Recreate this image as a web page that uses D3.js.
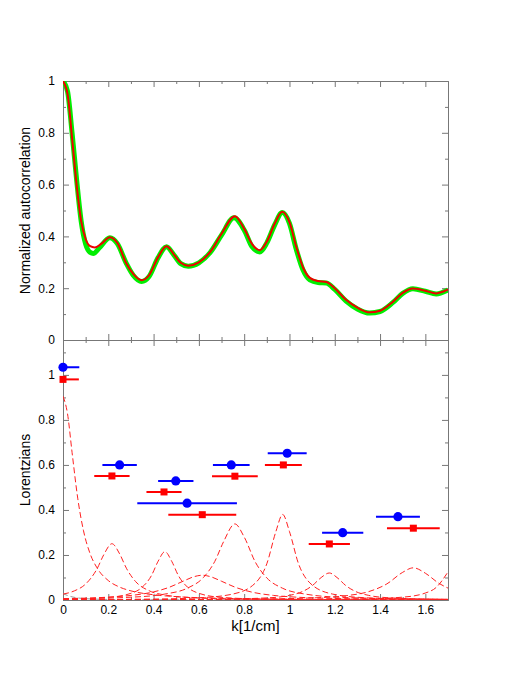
<!DOCTYPE html>
<html>
<head>
<meta charset="utf-8">
<script src="https://cdn.jsdelivr.net/npm/d3@7"></script>
<style>
  body { margin: 0; background: #fff; }
  text { font-family: "Liberation Sans", Arial, sans-serif; }
</style>
</head>
<body>
<div id="visArea"></div>
<script>

// Top panel: measured autocorrelation (green) and Lorentzian fit (red)
var dataK = [0, 0.02, 0.04, 0.06, 0.08, 0.10, 0.12, 0.134, 0.16, 0.207, 0.24, 0.28, 0.31, 0.347, 0.38, 0.42, 0.457, 0.49, 0.52, 0.553, 0.60, 0.65, 0.70, 0.755, 0.80, 0.835, 0.869, 0.90, 0.935, 0.968, 1.00, 1.03, 1.06, 1.09, 1.126, 1.163, 1.20, 1.25, 1.30, 1.354, 1.40, 1.457, 1.50, 1.545, 1.60, 1.648, 1.70];
var dataV = [1.0, 0.96, 0.80, 0.62, 0.46, 0.37, 0.338, 0.334, 0.355, 0.395, 0.372, 0.295, 0.25, 0.226, 0.245, 0.318, 0.36, 0.328, 0.295, 0.285, 0.298, 0.338, 0.405, 0.472, 0.425, 0.36, 0.34, 0.375, 0.445, 0.492, 0.45, 0.35, 0.27, 0.232, 0.222, 0.22, 0.195, 0.15, 0.12, 0.104, 0.11, 0.145, 0.18, 0.198, 0.188, 0.178, 0.193];

var fitK = [0, 0.02, 0.04, 0.06, 0.08, 0.10, 0.12, 0.14, 0.17, 0.207, 0.24, 0.28, 0.31, 0.347, 0.38, 0.42, 0.457, 0.49, 0.52, 0.553, 0.60, 0.65, 0.70, 0.759, 0.80, 0.835, 0.869, 0.90, 0.935, 0.968, 1.00, 1.03, 1.06, 1.09, 1.126, 1.163, 1.20, 1.25, 1.30, 1.354, 1.40, 1.457, 1.50, 1.545, 1.60, 1.648, 1.70];
var fitV = [1.0, 0.95, 0.78, 0.60, 0.46, 0.39, 0.362, 0.357, 0.372, 0.397, 0.375, 0.295, 0.255, 0.231, 0.25, 0.32, 0.362, 0.33, 0.298, 0.287, 0.30, 0.34, 0.41, 0.478, 0.43, 0.37, 0.347, 0.38, 0.45, 0.495, 0.455, 0.36, 0.28, 0.24, 0.228, 0.224, 0.20, 0.155, 0.125, 0.107, 0.113, 0.148, 0.182, 0.199, 0.19, 0.18, 0.195];

// Bottom panel: single Lorentzians, read as [k, value] pairs
var lor1 = [[0,0.905],[0.02,0.827],[0.04,0.656],[0.065,0.4525],[0.09,0.31],[0.12,0.205],[0.15,0.143],[0.2,0.0864],[0.25,0.0573],[0.3,0.0406],[0.4,0.0233],[0.5,0.015],[0.7,0.0077],[1.0,0.0038],[1.3,0.0023],[1.7,0.0013]];
var lor2 = [[0,0.026],[0.05,0.0405],[0.1,0.071],[0.15,0.138],[0.18,0.201],[0.216,0.25],[0.25,0.205],[0.28,0.141],[0.32,0.0825],[0.38,0.0413],[0.45,0.0221],[0.6,0.0087],[0.8,0.0039],[1.1,0.0017],[1.7,0.0006]];
var lor3 = [[0,0.0038],[0.2,0.0117],[0.3,0.0297],[0.35,0.0569],[0.39,0.1075],[0.42,0.172],[0.45,0.215],[0.48,0.172],[0.51,0.1075],[0.55,0.0569],[0.6,0.0297],[0.7,0.0117],[0.9,0.0038],[1.2,0.0014],[1.7,0.0005]];
var lor4 = [[0,0.0062],[0.2,0.0127],[0.3,0.0203],[0.4,0.036],[0.47,0.0569],[0.53,0.0833],[0.58,0.104],[0.615,0.11],[0.65,0.104],[0.7,0.0833],[0.76,0.0569],[0.83,0.036],[0.93,0.0203],[1.03,0.0127],[1.2,0.0068],[1.45,0.0034],[1.7,0.0021]];
var lor5 = [[0,0.0047],[0.3,0.0125],[0.45,0.0264],[0.55,0.0529],[0.62,0.0999],[0.67,0.171],[0.71,0.261],[0.759,0.338],[0.80,0.28],[0.85,0.167],[0.9,0.098],[0.97,0.052],[1.07,0.0262],[1.25,0.011],[1.7,0.0031]];
var lor6 = [[0,0.0015],[0.4,0.0042],[0.6,0.0097],[0.75,0.0264],[0.85,0.076],[0.9,0.161],[0.94,0.304],[0.97,0.38],[1.0,0.304],[1.04,0.161],[1.09,0.076],[1.19,0.0264],[1.34,0.0097],[1.54,0.0042],[1.7,0.0026]];
var lor7 = [[0,0.0006],[0.6,0.0023],[0.9,0.0093],[1.0,0.0205],[1.06,0.0387],[1.1,0.0631],[1.14,0.0998],[1.176,0.12],[1.21,0.0998],[1.25,0.0631],[1.29,0.0387],[1.35,0.0205],[1.45,0.0093],[1.7,0.0027]];
var lor8 = [[0,0.0008],[0.8,0.0034],[1.1,0.0092],[1.25,0.0192],[1.35,0.0373],[1.43,0.0715],[1.5,0.123],[1.547,0.143],[1.6,0.119],[1.66,0.074],[1.7,0.0528]];
var lor9 = [[0,0.0003],[0.5,0.0006],[1.0,0.0016],[1.3,0.0042],[1.5,0.0126],[1.6,0.031],[1.647,0.055],[1.7,0.125]];
var lorGray = [[0,0.028],[0.02,0.02],[0.04,0.014],[0.06,0.01],[0.1,0.006],[0.2,0.0025],[0.4,0.001],[0.8,0.0004],[1.7,0.0001]];
var lorentzians = [lor1, lor2, lor3, lor4, lor5, lor6, lor7, lor8, lor9];

// Peak positions with half widths (horizontal bars)
var blueK = [0, 0.25, 0.498, 0.548, 0.743, 0.99, 1.235, 1.479];
var blueV = [1.034, 0.60, 0.529, 0.43, 0.60, 0.652, 0.299, 0.37];
var blueW = [0.072, 0.076, 0.078, 0.22, 0.081, 0.086, 0.091, 0.097];

var redK = [0, 0.216, 0.446, 0.615, 0.759, 0.973, 1.176, 1.547];
var redV = [0.98, 0.551, 0.48, 0.379, 0.55, 0.60, 0.249, 0.319];
var redW = [0.07, 0.078, 0.0775, 0.15, 0.101, 0.0815, 0.091, 0.1165];

// Ticks
var xTicks = [0, 0.2, 0.4, 0.6, 0.8, 1, 1.2, 1.4, 1.6];
var xMinor = [0.1, 0.3, 0.5, 0.7, 0.9, 1.1, 1.3, 1.5];
var yTicks = [0, 0.2, 0.4, 0.6, 0.8, 1];
var yMinorTop = [0.1, 0.3, 0.5, 0.7, 0.9];
var yMinorBot = [0.1, 0.3, 0.5, 0.7, 0.9, 1.1];


function makeVis(){
  var svg = d3.select('#visArea')
              .append('svg')
              .attr('width', 526)
              .attr('height', 681);

  var x = d3.scaleLinear().domain([0, 1.7]).range([63, 448]);
  var yTop = d3.scaleLinear().domain([0, 1]).range([340, 81]);
  var yBot = d3.scaleLinear().domain([0, 1.155]).range([600, 340]);

  var defs = svg.append('defs');
  defs.append('clipPath').attr('id', 'clipTop')
      .append('rect').attr('x', 63).attr('y', 81).attr('width', 385).attr('height', 259);
  defs.append('clipPath').attr('id', 'clipBot')
      .append('rect').attr('x', 63).attr('y', 340).attr('width', 385).attr('height', 260);

  drawFrame(svg, x, yTop, yMinorTop, false);
  drawFrame(svg, x, yBot, yMinorBot, true);

  drawTop(svg, x, yTop);
  drawBottom(svg, x, yBot);

  // axis titles
  svg.append('text')
     .attr('transform', 'translate(30,210.5) rotate(-90)')
     .style('text-anchor', 'middle')
     .style('font-size', '14px')
     .text('Normalized autocorrelation');
  svg.append('text')
     .attr('transform', 'translate(30,470) rotate(-90)')
     .style('text-anchor', 'middle')
     .style('font-size', '14px')
     .text('Lorentzians');
  svg.append('text')
     .attr('x', 255.5)
     .attr('y', 631)
     .style('text-anchor', 'middle')
     .style('font-size', '15px')
     .text('k[1/cm]');
}


function drawFrame(svg, x, y, yMinor, labelX){
  var g = svg.append('g').attr('class', 'frame');
  var y0 = y.range()[0], y1 = y.range()[1];
  var fmt = function(d){ return String(+d.toFixed(1)); };

  // x: bottom and top edges, ticks pointing inward
  var xb = g.append('g').attr('transform', 'translate(0,' + y0 + ')');
  xb.call(d3.axisBottom(x).tickValues(xTicks).tickSize(-6).tickSizeOuter(0)
            .tickPadding(5).tickFormat(labelX ? fmt : ''));
  xb.append('g').call(d3.axisBottom(x).tickValues(xMinor).tickSize(-3).tickSizeOuter(0).tickFormat(''));

  var xt = g.append('g').attr('transform', 'translate(0,' + y1 + ')');
  xt.call(d3.axisTop(x).tickValues(xTicks).tickSize(-6).tickSizeOuter(0).tickFormat(''));
  xt.append('g').call(d3.axisTop(x).tickValues(xMinor).tickSize(-3).tickSizeOuter(0).tickFormat(''));

  // y: left and right edges
  var yl = g.append('g').attr('transform', 'translate(' + x.range()[0] + ',0)');
  yl.call(d3.axisLeft(y).tickValues(yTicks).tickSize(-6).tickSizeOuter(0).tickPadding(8).tickFormat(fmt));
  yl.append('g').call(d3.axisLeft(y).tickValues(yMinor).tickSize(-3).tickSizeOuter(0).tickFormat(''));

  var yr = g.append('g').attr('transform', 'translate(' + x.range()[1] + ',0)');
  yr.call(d3.axisRight(y).tickValues(yTicks).tickSize(-6).tickSizeOuter(0).tickFormat(''));
  yr.append('g').call(d3.axisRight(y).tickValues(yMinor).tickSize(-3).tickSizeOuter(0).tickFormat(''));

  g.selectAll('path.domain').style('stroke', '#777').style('stroke-width', '1');
  g.selectAll('.tick line').style('stroke', '#777');
  g.selectAll('.tick text')
   .style('font-size', '12px')
   .style('fill', '#000')
   .style('font-family', '"Liberation Sans", Arial, sans-serif');
}


function drawTop(svg, x, y){
  var g = svg.append('g').attr('clip-path', 'url(#clipTop)');
  var line = d3.line()
               .x(function(d){ return x(d[0]); })
               .y(function(d){ return y(d[1]); })
               .curve(d3.curveMonotoneX);

  g.append('path')
   .datum(d3.zip(dataK, dataV))
   .attr('d', line)
   .style('fill', 'none')
   .style('stroke', '#00ee00')
   .style('stroke-width', '5');

  g.append('path')
   .datum(d3.zip(fitK, fitV))
   .attr('d', line)
   .style('fill', 'none')
   .style('stroke', '#ee0000')
   .style('stroke-width', '2');
}


function drawBottom(svg, x, y){
  var line = d3.line()
               .x(function(d){ return x(d[0]); })
               .y(function(d){ return y(d[1]); })
               .curve(d3.curveMonotoneX);

  var curves = svg.append('g').attr('clip-path', 'url(#clipBot)');
  curves.append('path')
        .datum(lorGray)
        .attr('d', line)
        .style('fill', 'none')
        .style('stroke', '#999')
        .style('stroke-width', '1')
        .style('stroke-dasharray', '5,3');

  curves.selectAll('path.lor')
        .data(lorentzians)
        .enter()
        .append('path')
        .attr('class', 'lor')
        .attr('d', line)
        .style('fill', 'none')
        .style('stroke', '#ff2020')
        .style('stroke-width', '1')
        .style('stroke-dasharray', '6,3');

  var bars = svg.append('g').attr('clip-path', 'url(#clipBot)');
  var blue = d3.range(blueK.length);
  var red = d3.range(redK.length);

  bars.selectAll('line.blue')
      .data(blue)
      .enter()
      .append('line')
      .attr('class', 'blue')
      .attr('x1', function(i){ return x(blueK[i] - blueW[i]); })
      .attr('x2', function(i){ return x(blueK[i] + blueW[i]); })
      .attr('y1', function(i){ return y(blueV[i]); })
      .attr('y2', function(i){ return y(blueV[i]); })
      .style('stroke', '#0000ff')
      .style('stroke-width', '2');

  bars.selectAll('line.red')
      .data(red)
      .enter()
      .append('line')
      .attr('class', 'red')
      .attr('x1', function(i){ return x(redK[i] - redW[i]); })
      .attr('x2', function(i){ return x(redK[i] + redW[i]); })
      .attr('y1', function(i){ return y(redV[i]); })
      .attr('y2', function(i){ return y(redV[i]); })
      .style('stroke', '#ff0000')
      .style('stroke-width', '2');

  var marks = svg.append('g').attr('class', 'markers');
  marks.selectAll('circle')
       .data(blue)
       .enter()
       .append('circle')
       .attr('cx', function(i){ return x(blueK[i]); })
       .attr('cy', function(i){ return y(blueV[i]); })
       .attr('r', 4.6)
       .style('fill', '#0000ff');

  marks.selectAll('rect')
       .data(red)
       .enter()
       .append('rect')
       .attr('x', function(i){ return x(redK[i]) - 3.5; })
       .attr('y', function(i){ return y(redV[i]) - 3.5; })
       .attr('width', 7)
       .attr('height', 7)
       .style('fill', '#ff0000');
}


makeVis();
</script>
</body>
</html>
